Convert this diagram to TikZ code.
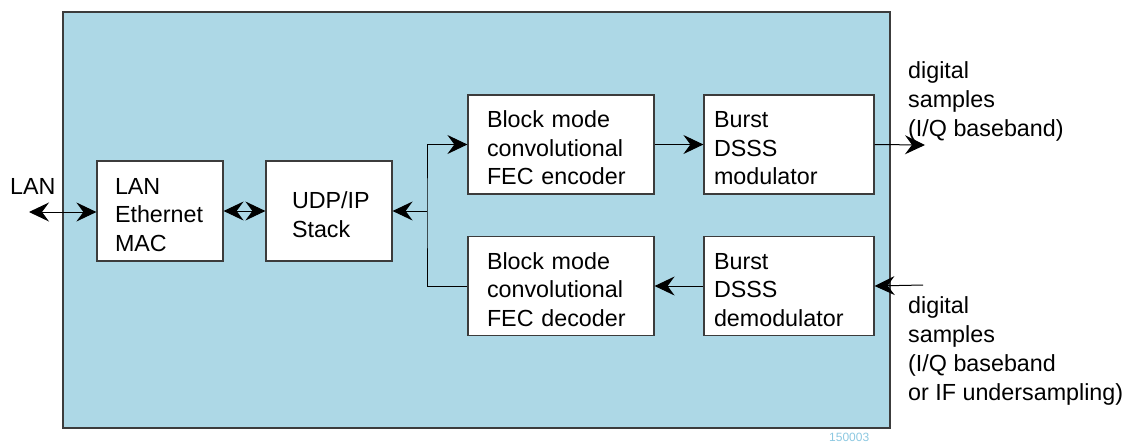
\documentclass[tikz,border=0pt]{standalone}
\usepackage{fontspec}
\setmainfont{Liberation Sans}
\usetikzlibrary{arrows.meta}
\definecolor{panelblue}{RGB}{173,216,230}
\definecolor{idblue}{RGB}{140,200,225}
\definecolor{edgegray}{RGB}{60,60,60}
\begin{document}
\begin{tikzpicture}[x=1pt,y=-1pt,
  >={Stealth[length=20pt,width=19pt,inset=7pt]},
  blk/.style={draw=edgegray,line width=1.2pt,fill=white,align=left,
    font=\fontsize{23.3}{28.6}\selectfont,inner ysep=0pt,minimum height=99pt,
    execute at begin node={\rule{0pt}{24pt}}},
  lbl/.style={align=left,inner sep=0pt,font=\fontsize{23.3}{29}\selectfont},
  conn/.style={draw=black,line width=1pt}]
\useasboundingbox (0,0) rectangle (1131,445);
\draw[draw=edgegray,line width=1.4pt,fill=panelblue] (63,12) rectangle (890,428);
\node[blk,text width=90pt,inner xsep=18pt,minimum height=100pt] (mac) at (160,211) {LAN\\Ethernet\\MAC};
\node[blk,text width=74pt,inner xsep=26pt,minimum height=100pt] (udp) at (329,211) {UDP/IP\\Stack};
\node[blk,text width=148pt,inner xsep=19pt] (enc) at (561,144.5) {Block mode\\convolutional\\FEC encoder};
\node[blk,text width=148pt,inner xsep=19pt] (dec) at (561,286) {Block mode\\convolutional\\FEC decoder};
\node[blk,text width=150pt,inner xsep=10pt] (mod) at (789,144.5) {Burst\\DSSS\\modulator};
\node[blk,text width=150pt,inner xsep=10pt] (dem) at (789,286) {Burst\\DSSS\\demodulator};
\coordinate (lanend) at (29,212);
\coordinate (outend) at (925,145);
\coordinate (inend) at (923,285);
\coordinate (j) at (427,211);
\draw[conn,<->] (lanend) -- (lanend -| mac.west);
\draw[conn,<->] (mac.east) -- (udp.west);
\draw[conn,->] (j) -- (udp.east);
\draw[conn,->] (dec.west) -| (j) |- (enc.west);
\draw[conn,->] (enc.east) -- (mod.west);
\draw[conn,->] (dem.west) -- (dec.east);
\draw[conn,->] (mod.east) -- (outend);
\draw[conn,->] (inend) -- (dem.east);
\node[lbl,anchor=base west] (lan) at (10,194) {LAN};
\node[lbl,anchor=north west] (outtxt) at (908,61) {digital\\samples\\(I/Q baseband)};
\node[lbl,anchor=north west] (intxt) at (908,296) {digital\\samples\\(I/Q baseband\\or IF undersampling)};
\node[inner sep=0pt,text=idblue,font=\fontsize{12}{14}\selectfont,anchor=west] (id) at (829,437) {150003};
\end{tikzpicture}
\end{document}
